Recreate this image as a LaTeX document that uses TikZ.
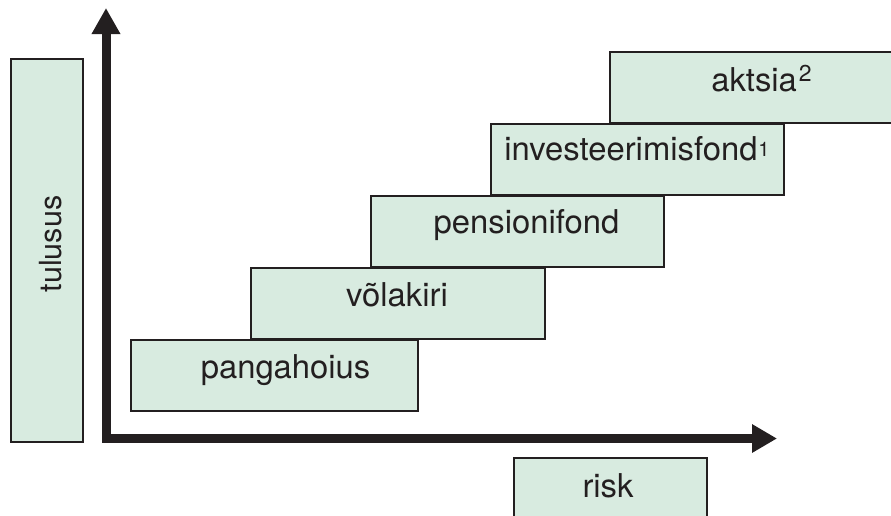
\documentclass[tikz,border=0pt]{standalone}
\usepackage{fontspec}
\setmainfont{TeX Gyre Heros}
\usetikzlibrary{arrows.meta}
\definecolor{boxfill}{HTML}{D8EBE0}
\definecolor{inkdark}{HTML}{231F20}
\tikzset{
  x=1pt, y=-1pt,
  stepbox/.style={draw=inkdark, line width=1.8pt, fill=boxfill, anchor=north west,
    inner sep=0pt, minimum width=#1, minimum height=71pt},
  stepbox/.default=293pt,
  lbl/.style={anchor=base, inner sep=0pt, text=inkdark,
    font=\fontsize{32.8}{36}\selectfont},
  axis/.style={draw=inkdark, line width=9pt, line join=miter,
    {Triangle[length=26pt,width=27pt]}-{Triangle[length=25pt,width=27pt]}}
}
% raised footnote mark: size, raise, digit
\newcommand{\notemark}[3]{\raisebox{#2}{\fontsize{#1}{#1}\selectfont #3}}
\begin{document}
\begin{tikzpicture}
\useasboundingbox (0,0) rectangle (891,515);

% value axis label box
\node[stepbox=72pt, minimum height=383pt] (yield) at (10,58) {};
\node[lbl, rotate=90, font=\fontsize{30.5}{34}\selectfont] (yieldtxt) at (61.5,244) {tulusus};

% risk label box (runs off the lower edge)
\node[stepbox=193pt, minimum height=70pt] (risk) at (513,457) {};
\node[lbl] (risktxt) at (608,497) {risk};

% staircase of investment types
\node[stepbox=287pt] (s1) at (130,339) {};
\node[stepbox=294pt] (s2) at (250,267) {};
\node[stepbox=293pt] (s3) at (370,195) {};
\node[stepbox=293pt] (s4) at (490,123) {};
\node[stepbox=300pt] (s5) at (609,51) {};

\node[lbl] (t1) at (285.5,378) {pangahoius};
\node[lbl] (t2) at (397,306) {võlakiri};
\node[lbl] (t3) at (526.5,233) {pensionifond};
\node[lbl] (t4) at (637,160) {investeerimisfond\kern1pt\notemark{20}{4pt}{1}};
\node[lbl] (t5) at (761.5,91.5) {aktsia\kern2pt\notemark{23}{10pt}{2}};

% axes
\coordinate (ytip) at (106,8);
\coordinate (origin) at (106,438.5);
\coordinate (xtip) at (777,438.5);
\draw[axis] (ytip) -- (origin) -- (xtip);
\end{tikzpicture}
\end{document}
